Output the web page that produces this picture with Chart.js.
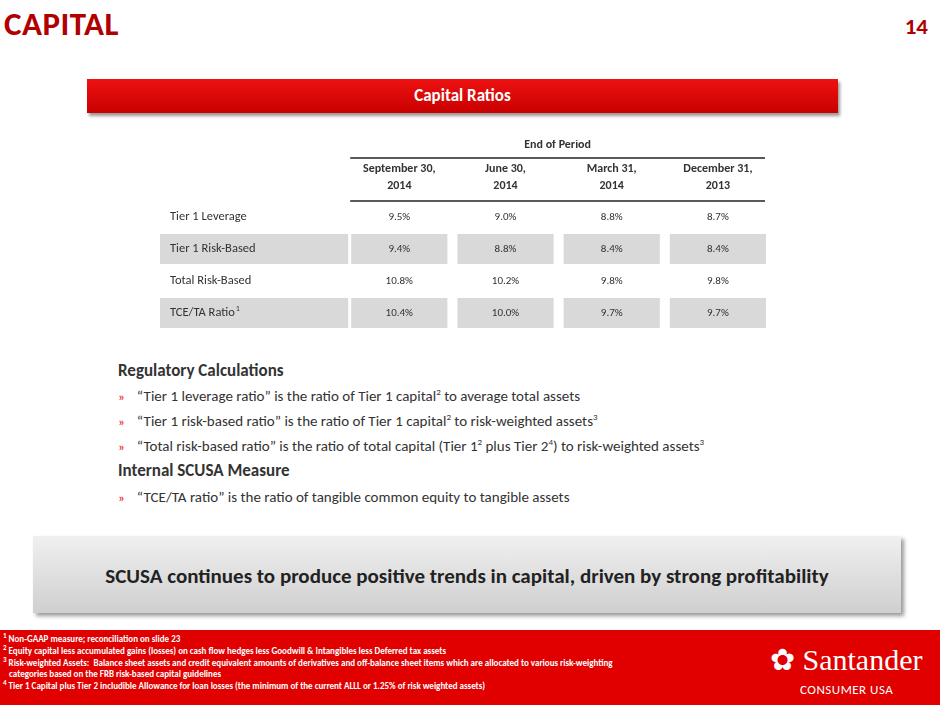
<!DOCTYPE html>
<html><head><meta charset="utf-8">
<script src="https://cdn.jsdelivr.net/npm/chart.js@4.4.0/dist/chart.umd.min.js"></script>
<style>
body{margin:0;width:940px;height:705px;position:relative;font-family:Calibri,Carlito,"Open Sans",sans-serif;background:#fff;overflow:hidden}
.a{position:absolute}
#title{left:4px;top:4px;font-size:33px;font-weight:bold;color:#b00000;letter-spacing:0.5px}
#num{right:12px;top:12px;font-size:23px;font-weight:bold;color:#b00000}
#banner{left:87px;top:79px;width:751px;height:34px;background:linear-gradient(#ee1111,#c80000);box-shadow:2px 3px 3px #999;color:#fff;font-weight:bold;font-size:17px;text-align:center;line-height:34px}
.h{font-weight:bold;font-size:17px;color:#333}
.b{font-size:15px;color:#333}
.b span{color:#e00;margin-right:12px;font-size:13px}
sup{font-size:9px;line-height:0}
#box{left:33px;top:536px;width:868px;height:77px;background:linear-gradient(#f0f0f0,#cfcfcf);box-shadow:3px 3px 4px #999;font-weight:bold;font-size:21px;color:#222;text-align:center;line-height:80px}
#foot{left:0;top:630px;width:940px;height:75px;background:#e00000;color:#fff}
#fn{left:3px;top:3px;font-size:9px;font-weight:bold;line-height:11.8px}
#fn sup{font-size:7px}
#logo{left:770px;top:12px;font-family:"Liberation Serif",serif;font-size:30px}
#cu{left:780px;top:52px;font-size:13px;letter-spacing:0.5px}
</style></head><body>
<div id="title" class="a">CAPITAL</div><div id="num" class="a">14</div>
<div id="banner" class="a">Capital Ratios</div>
<div class="a" style="left:160px;top:140px;width:610px;height:195px"><canvas id="c"></canvas></div>
<div class="a h" style="left:118px;top:360px">Regulatory Calculations</div>
<div class="a b" style="left:118px;top:387px"><span>»</span>“Tier 1 leverage ratio” is the ratio of Tier 1 capital<sup>2</sup> to average total assets</div>
<div class="a b" style="left:118px;top:412px"><span>»</span>“Tier 1 risk-based ratio” is the ratio of Tier 1 capital<sup>2</sup> to risk-weighted assets<sup>3</sup></div>
<div class="a b" style="left:118px;top:437px"><span>»</span>“Total risk-based ratio” is the ratio of total capital (Tier 1<sup>2</sup> plus Tier 2<sup>4</sup>) to risk-weighted assets<sup>3</sup></div>
<div class="a h" style="left:118px;top:460px">Internal SCUSA Measure</div>
<div class="a b" style="left:118px;top:488px"><span>»</span>“TCE/TA ratio” is the ratio of tangible common equity to tangible assets</div>
<div id="box" class="a">SCUSA continues to produce positive trends in capital, driven by strong profitability</div>
<div id="foot" class="a">
<div id="fn" class="a"><sup>1</sup> Non-GAAP measure; reconciliation on slide 23<br><sup>2</sup> Equity capital less accumulated gains (losses) on cash flow hedges less Goodwill &amp; Intangibles less Deferred tax assets<br><sup>3</sup> Risk-weighted Assets:&nbsp; Balance sheet assets and credit equivalent amounts of derivatives and off-balance sheet items which are allocated to various risk-weighting<br>&nbsp;&nbsp; categories based on the FRB risk-based capital guidelines<br><sup>4</sup> Tier 1 Capital plus Tier 2 includible Allowance for loan losses (the minimum of the current ALLL or 1.25% of risk weighted assets)</div>
<div id="logo" class="a">&#10047; Santander</div>
<div id="cu" class="a" style="left:800px">CONSUMER USA</div>
</div>
<script>
const periods=["September 30,\n2014","June 30,\n2014","March 31,\n2014","December 31,\n2013"];
const rows=["Tier 1 Leverage","Tier 1 Risk-Based","Total Risk-Based","TCE/TA Ratio"];
const sep14=[9.5,9.4,10.8,10.4];
const jun14=[9.0,8.8,10.2,10.0];
const mar14=[8.8,8.4,9.8,9.7];
const dec13=[8.7,8.4,9.8,9.7];
const cols=[sep14,jun14,mar14,dec13];
const xLabels=["label"].concat(periods);
const pts=[];
cols.forEach((c,ci)=>c.forEach((v,ri)=>pts.push({x:xLabels[ci+1],y:rows[ri],v})));
const table={id:'table',beforeDatasetsDraw(ch){
 const ctx=ch.ctx,xs=ch.scales.x,ys=ch.scales.y,a=ch.chartArea;
 const cw=xs.getPixelForValue(1)-xs.getPixelForValue(0), rh=Math.abs(ys.getPixelForValue(1)-ys.getPixelForValue(0));
 ctx.save();
 const f="Calibri, Carlito, 'Open Sans', sans-serif";
 rows.forEach((r,ri)=>{
  const y=ys.getPixelForValue(ri);
  if(ri%2==1){ctx.fillStyle='#d9d9d9';
   ctx.fillRect(0,y-rh/2+1,xs.getPixelForValue(1)-cw/2+3,rh-2);
   for(let c=1;c<=4;c++)ctx.fillRect(xs.getPixelForValue(c)-cw/2+6,y-rh/2+1,cw-10,rh-2);}
  ctx.fillStyle='#333';ctx.font="12.5px "+f;ctx.textAlign='left';ctx.textBaseline='middle';
  ctx.fillText(r,10,y);
  if(ri==3){const w=ctx.measureText(r).width;ctx.font="8px "+f;ctx.fillText("1",10+w+1,y-4);}
 });
 ctx.font="11px "+f;ctx.textAlign='center';ctx.fillStyle='#333';
 pts.forEach(p=>ctx.fillText(p.v.toFixed(1)+"%",xs.getPixelForValue(p.x)+1,ys.getPixelForValue(p.y)));
 const x0=xs.getPixelForValue(1)-cw/2+5,x1=xs.getPixelForValue(4)+cw/2-5;
 ctx.font="bold 12px "+f;
 ctx.fillText("End of Period",(x0+x1)/2,a.top-56);
 periods.forEach((p,i)=>{const ls=p.split("\n");ls.forEach((l,k)=>ctx.fillText(l,xs.getPixelForValue(i+1)+1,a.top-32+k*17));});
 ctx.strokeStyle='#222';ctx.lineWidth=1.5;
 [a.top-43,a.top].forEach(y=>{ctx.beginPath();ctx.moveTo(x0,y);ctx.lineTo(x1,y);ctx.stroke();});
 ctx.restore();}};
new Chart(document.getElementById('c'),{type:'scatter',
 data:{datasets:[{data:pts,pointRadius:0}]},
 options:{responsive:true,maintainAspectRatio:false,animation:false,
  layout:{padding:{left:79,top:61,bottom:6,right:0}},
  plugins:{legend:{display:false},tooltip:{enabled:false}},
  scales:{x:{type:'category',labels:xLabels,display:false,offset:true},y:{type:'category',labels:rows,display:false,offset:true}}},
 plugins:[table]});
</script></body></html>
